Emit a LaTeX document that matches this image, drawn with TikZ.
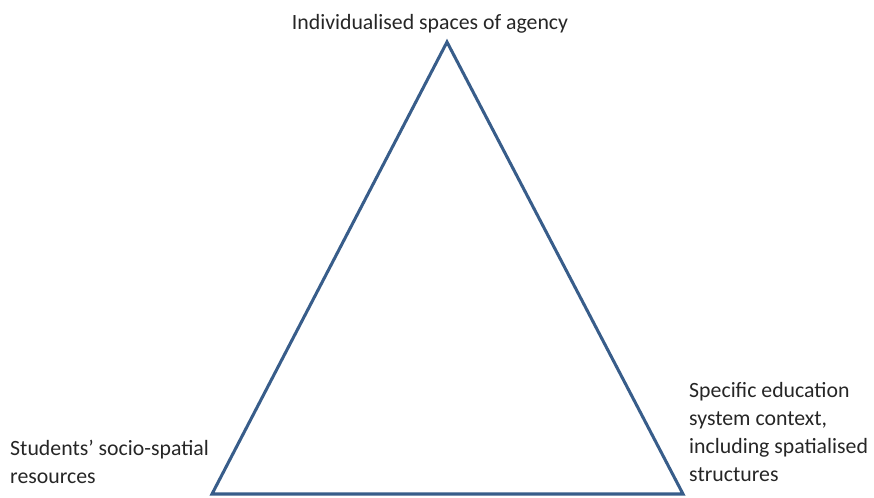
\documentclass[tikz,border=0pt]{standalone}
\usepackage{fontspec}
\setmainfont{Carlito}
\usepackage{tikz}

\definecolor{edgeblue}{RGB}{56,93,138}
\definecolor{labelgray}{RGB}{38,38,38}

\begin{document}
\begin{tikzpicture}[x=0.03cm,y=-0.03cm,
    label text/.style={inner sep=0pt,align=left,text=labelgray,
        font=\fontsize{18.6}{23.8}\selectfont}]
    \useasboundingbox (0,0) rectangle (874,497);

    \coordinate (top) at (447,42);
    \coordinate (left) at (212,494);
    \coordinate (right) at (683,494);

    \draw [edgeblue,line width=2.6pt,line join=miter] (top)--(right)--(left)--cycle;

    % last line of each label sits on the given baseline
    \node [label text,anchor=base] (agency) at (430,29) {Individualised spaces of agency};
    \node [label text,anchor=base west] (resources) at (10,483) {Students’ socio-spatial\\resources};
    \node [label text,anchor=base west] (context) at (689,481) {Specific education\\system context,\\including spatialised\\structures};
\end{tikzpicture}
\end{document}
